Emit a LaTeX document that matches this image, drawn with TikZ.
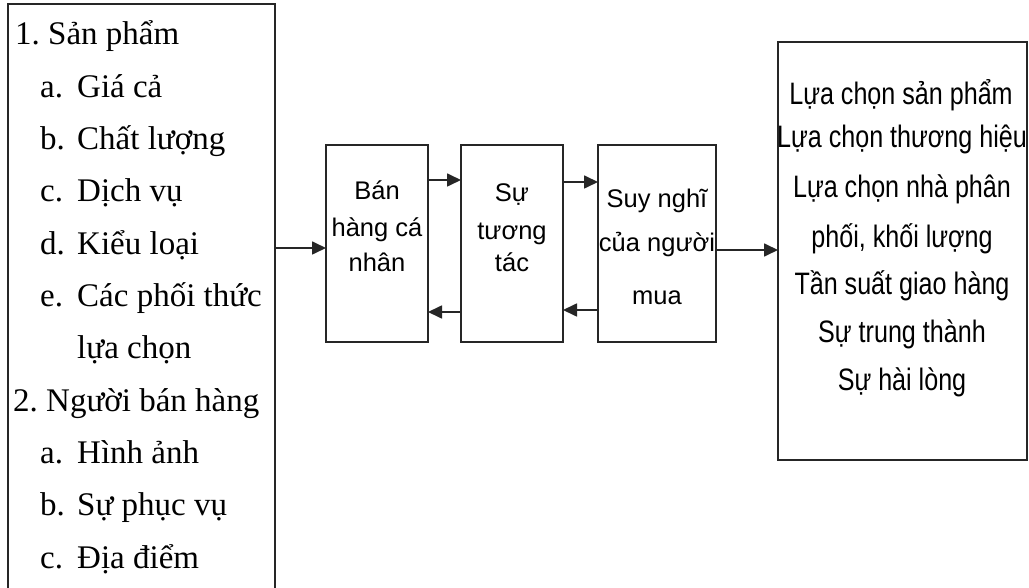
\documentclass[tikz,border=0pt]{standalone}
\usepackage{fontspec}
\setmainfont{Liberation Serif}
\newfontfamily\arialf{Liberation Sans}
\newfontfamily\arialn[FakeStretch=0.81]{Liberation Sans}
\usetikzlibrary{arrows.meta}
\frenchspacing
\begin{document}
\begin{tikzpicture}[x=1pt,y=-1pt,
  box/.style={draw=black!85, line width=1.7pt, inner sep=0pt, outer sep=0pt},
  arr/.style={draw=black!85, line width=1.7pt, -{Triangle[length=14pt,width=13pt]}},
  ltxt/.style={anchor=base west, inner sep=0pt, font=\fontsize{33}{40}\selectfont},
  mtxt/.style={anchor=base, inner sep=0pt, font=\arialf\fontsize{25.5}{30}\selectfont},
  rtxt/.style={anchor=base, inner sep=0pt, font=\arialn\fontsize{31}{36}\selectfont}]
\clip (0,0) rectangle (1029,588);
\fill[white] (0,0) rectangle (1029,588);

% boxes
\node[box, minimum width=267pt, minimum height=600pt] (L) at (141.5,304) {};
\node[box, minimum width=102pt, minimum height=197pt] (B1) at (377,243.5) {};
\node[box, minimum width=102pt, minimum height=197pt] (B2) at (512,243.5) {};
\node[box, minimum width=118pt, minimum height=197pt] (B3) at (657,243.5) {};
\node[box, minimum width=249pt, minimum height=418pt] (R) at (902.5,251) {};

% left text
\node[ltxt] (l1) at (15,45) {1. Sản phẩm};
\node[ltxt] (l2) at (40,97.3) {\makebox[37pt][l]{a.}Giá cả};
\node[ltxt] (l3) at (40,149.6) {\makebox[37pt][l]{b.}Chất lượng};
\node[ltxt] (l4) at (40,201.9) {\makebox[37pt][l]{c.}Dịch vụ};
\node[ltxt] (l5) at (40,254.2) {\makebox[37pt][l]{d.}Kiểu loại};
\node[ltxt] (l6) at (40,306.5) {\makebox[37pt][l]{e.}Các phối thức};
\node[ltxt] (l7) at (77,358.8) {lựa chọn};
\node[ltxt] (l8) at (13,411.1) {2. Người bán hàng};
\node[ltxt] (l9) at (40,463.4) {\makebox[37pt][l]{a.}Hình ảnh};
\node[ltxt] (l10) at (40,515.7) {\makebox[37pt][l]{b.}Sự phục vụ};
\node[ltxt] (l11) at (40,568) {\makebox[37pt][l]{c.}Địa điểm};

% middle text
\node[mtxt] (m11) at (377,200) {Bán};
\node[mtxt] (m12) at (377,237) {hàng cá};
\node[mtxt] (m13) at (377,272) {nhân};
\node[mtxt] (m21) at (512,202) {Sự};
\node[mtxt] (m22) at (512,240) {tương};
\node[mtxt] (m23) at (512,272) {tác};
\node[mtxt] (m31) at (657,208) {Suy nghĩ};
\node[mtxt] (m32) at (657,252) {của người};
\node[mtxt] (m33) at (657,305) {mua};

% right text
\node[rtxt] (r1) at (901,105) {Lựa chọn sản phẩm};
\node[rtxt] (r2) at (902,148) {Lựa chọn thương hiệu};
\node[rtxt] (r3) at (902,198) {Lựa chọn nhà phân};
\node[rtxt] (r4) at (902,248) {phối, khối lượng};
\node[rtxt] (r5) at (902,295) {Tần suất giao hàng};
\node[rtxt] (r6) at (902,343) {Sự trung thành};
\node[rtxt] (r7) at (902,390) {Sự hài lòng};

% arrow levels
\coordinate (ya) at (0,248);
\coordinate (yt1) at (0,180);
\coordinate (yt2) at (0,182);
\coordinate (yb1) at (0,312);
\coordinate (yb2) at (0,310);
\coordinate (yr) at (0,250);

\draw[arr] (L.east |- ya) -- (B1.west |- ya);
\draw[arr] (B1.east |- yt1) -- (B2.west |- yt1);
\draw[arr] (B2.east |- yt2) -- (B3.west |- yt2);
\draw[arr] (B2.west |- yb1) -- (B1.east |- yb1);
\draw[arr] (B3.west |- yb2) -- (B2.east |- yb2);
\draw[arr] (B3.east |- yr) -- (R.west |- yr);
\end{tikzpicture}
\end{document}
